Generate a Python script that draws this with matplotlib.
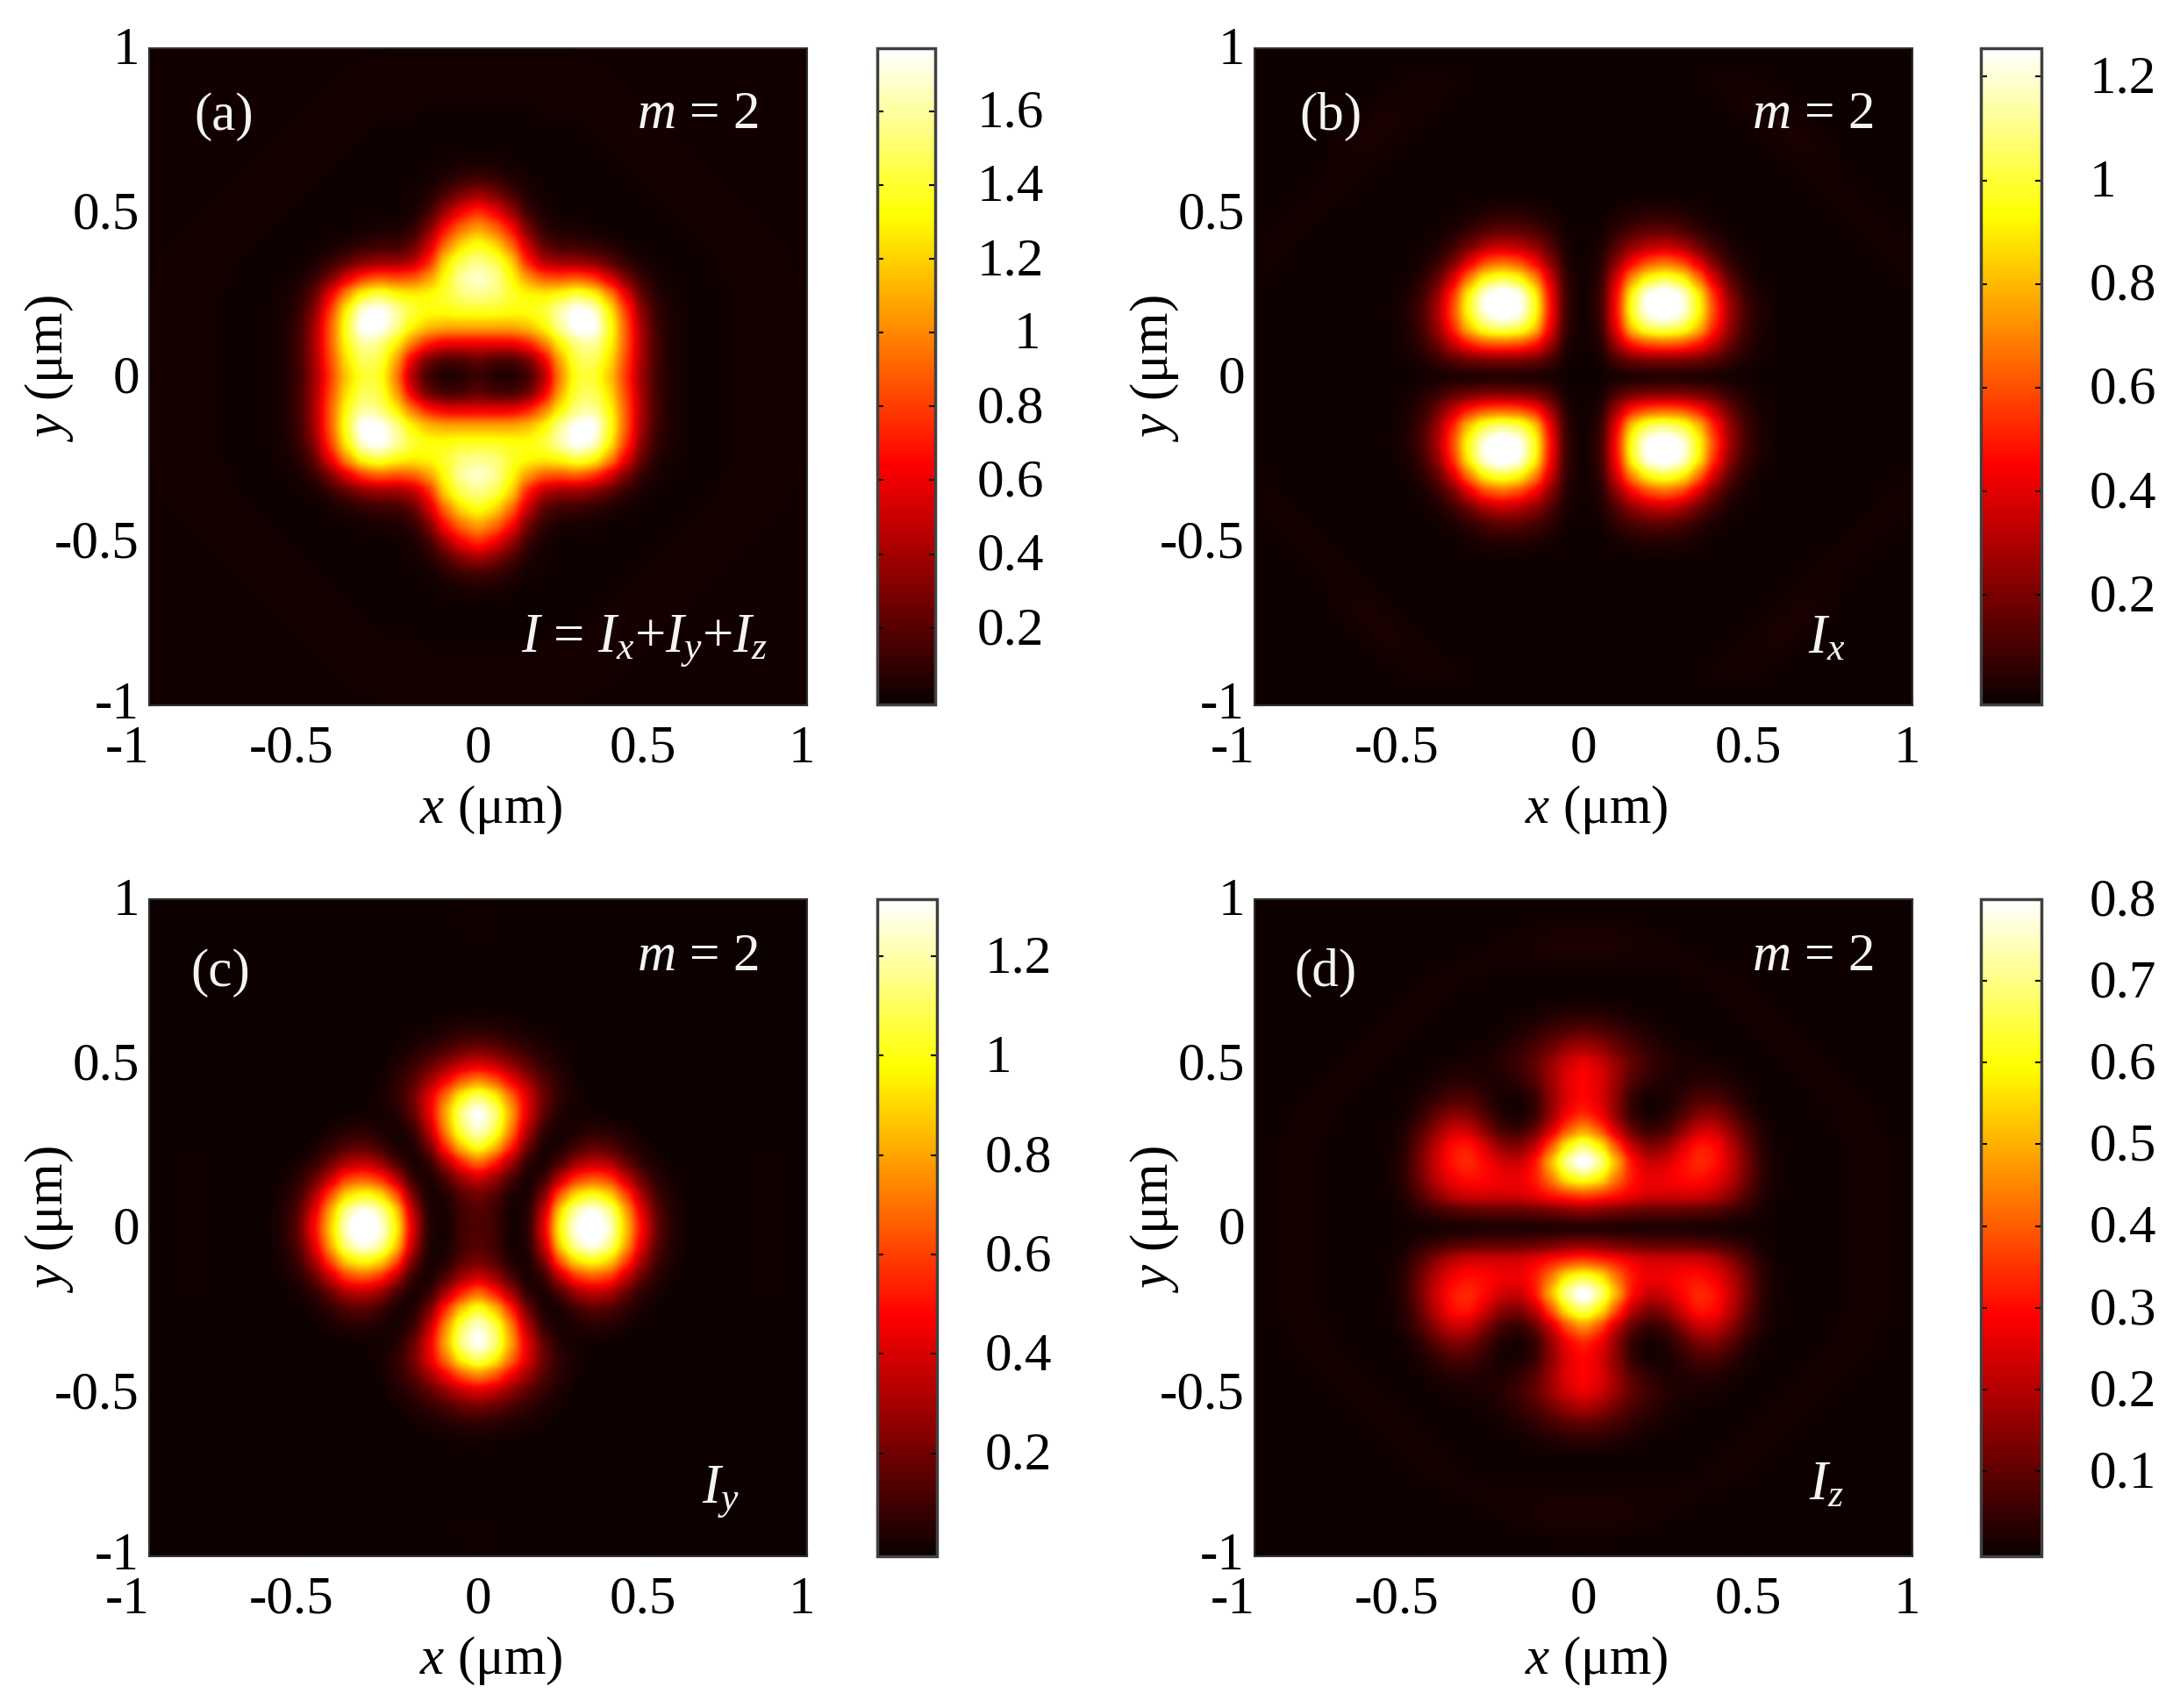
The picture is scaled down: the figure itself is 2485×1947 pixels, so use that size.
import numpy as np
import matplotlib
matplotlib.use('Agg')
import matplotlib.pyplot as plt
from matplotlib.transforms import ScaledTranslation

plt.rcParams['font.family'] = ['Liberation Serif', 'DejaVu Serif']
plt.rcParams['mathtext.fontset'] = 'custom'
plt.rcParams['mathtext.rm'] = 'Liberation Serif'
plt.rcParams['mathtext.it'] = 'Liberation Serif:italic'
plt.rcParams['mathtext.bf'] = 'Liberation Serif:bold'

# one quadrant of each map
# rows: y = 0, 0.05 ... 1   columns: x = 0, 0.05 ... 1
Ia = [
    [.12, .05, .03, .10, .38, 1.0, 1.40, 1.40, 1.18, .78, .34, .10, .03, .01, .01, .01, .02, .03, .03, .03, .02],
    [.22, .14, .13, .22, .55, 1.1, 1.45, 1.50, 1.25, .83, .37, .11, .03, .01, .01, .01, .02, .03, .03, .03, .02],
    [.58, .58, .58, .70, .95, 1.3, 1.55, 1.62, 1.35, .88, .38, .11, .03, .01, .01, .01, .02, .03, .03, .03, .02],
    [1.1, 1.1, 1.1, 1.15, 1.3, 1.6, 1.82, 1.85, 1.40, .88, .36, .10, .03, .01, .01, .01, .02, .03, .03, .03, .02],
    [1.38, 1.38, 1.35, 1.35, 1.42, 1.65, 1.85, 1.75, 1.32, .80, .30, .08, .03, .01, .01, .01, .02, .03, .03, .03, .02],
    [1.58, 1.55, 1.4, 1.33, 1.3, 1.35, 1.48, 1.38, 1.05, .60, .20, .05, .02, .01, .01, .01, .02, .03, .03, .03, .02],
    [1.72, 1.62, 1.35, 1.05, .88, .85, .90, .80, .55, .28, .09, .03, .01, .01, .01, .02, .03, .03, .03, .02, .02],
    [1.58, 1.48, 1.25, .70, .42, .35, .35, .30, .20, .09, .03, .01, .01, .01, .01, .02, .03, .03, .03, .02, .02],
    [1.38, 1.25, .95, .50, .20, .12, .12, .09, .05, .02, .01, .01, .01, .01, .02, .03, .03, .03, .02, .02, .02],
    [1.1, .95, .70, .27, .08, .04, .03, .02, .01, .01, .01, .01, .01, .02, .03, .03, .03, .02, .02, .02, .02],
    [.80, .65, .40, .12, .03, .01, .01, .01, .01, .01, .01, .01, .02, .03, .03, .03, .02, .02, .02, .02, .02],
    [.42, .32, .17, .05, .02, .01, .01, .01, .01, .01, .01, .02, .03, .03, .03, .02, .02, .02, .02, .02, .02],
    [.14, .11, .06, .02, .01, .01, .01, .01, .01, .01, .02, .03, .03, .03, .02, .02, .02, .02, .02, .02, .02],
    [.04, .03, .02, .01, .01, .01, .01, .01, .01, .02, .03, .03, .03, .02, .02, .02, .02, .02, .02, .02, .02],
    [.01, .01, .01, .01, .01, .01, .01, .01, .02, .03, .03, .03, .02, .02, .02, .02, .02, .02, .02, .02, .02],
    [.01, .01, .01, .01, .01, .01, .01, .02, .03, .03, .03, .02, .02, .02, .02, .02, .02, .02, .02, .02, .02],
    [.01, .01, .01, .01, .02, .02, .02, .03, .03, .03, .02, .02, .02, .02, .02, .02, .02, .02, .02, .02, .02],
    [.02, .02, .02, .02, .03, .03, .03, .03, .03, .02, .02, .02, .02, .02, .02, .02, .02, .02, .02, .02, .02],
    [.03, .03, .03, .03, .03, .03, .03, .03, .02, .02, .02, .02, .02, .02, .02, .02, .02, .02, .02, .02, .02],
    [.03, .03, .03, .03, .03, .03, .02, .02, .02, .02, .02, .02, .02, .02, .02, .02, .02, .02, .02, .02, .02],
    [.02, .02, .02, .02, .02, .02, .02, .02, .02, .02, .02, .02, .02, .02, .02, .02, .02, .02, .02, .02, .02],
]
Ib = [
    [0, 0, 0, 0, 0, 0, 0, 0, 0, 0, 0, 0, 0, 0, 0, 0, 0, 0, 0, 0, 0],
    [0, 0, .10, .16, .18, .19, .18, .16, .12, .06, .02, 0, 0, 0, 0, 0, 0, 0, 0, 0, 0],
    [0, .02, .28, .52, .60, .62, .60, .50, .33, .15, .05, .01, 0, 0, 0, 0, 0, 0, 0, 0, 0],
    [0, .04, .42, .90, 1.08, 1.12, 1.05, .84, .50, .23, .07, .01, 0, 0, 0, 0, 0, 0, 0, 0, 0],
    [0, .05, .47, 1.03, 1.3, 1.38, 1.25, .97, .57, .25, .08, .02, 0, 0, 0, 0, 0, 0, 0, 0, 0],
    [0, .05, .45, 1.0, 1.3, 1.38, 1.25, .94, .52, .21, .06, .01, 0, 0, 0, 0, 0, 0, 0, 0, 0],
    [0, .04, .37, .75, .97, 1.03, .95, .68, .35, .12, .03, 0, 0, 0, 0, 0, 0, 0, 0, .005, .005],
    [0, .02, .23, .45, .60, .65, .58, .38, .17, .05, .01, 0, 0, 0, 0, 0, 0, 0, 0, .01, .005],
    [0, .01, .12, .24, .30, .33, .28, .16, .07, .02, 0, 0, 0, 0, 0, 0, 0, 0, .01, .01, .005],
    [0, 0, .05, .10, .13, .13, .10, .05, .02, 0, 0, 0, 0, 0, 0, 0, 0, .01, .01, .005, 0],
    [0, 0, .01, .03, .04, .04, .03, .01, 0, 0, 0, 0, 0, 0, 0, 0, .01, .01, .005, 0, 0],
    [0, 0, 0, 0, 0, 0, 0, 0, 0, 0, 0, 0, 0, 0, 0, .01, .01, .005, 0, 0, 0],
    [0, 0, 0, 0, 0, 0, 0, 0, 0, 0, 0, 0, 0, 0, .01, .01, .005, 0, 0, 0, 0],
    [0, 0, 0, 0, 0, 0, 0, 0, 0, 0, 0, 0, 0, .01, .01, .01, 0, 0, 0, 0, 0],
    [0, 0, 0, 0, 0, 0, 0, 0, 0, 0, 0, 0, .01, .02, .02, .01, 0, 0, 0, 0, 0],
    [0, 0, 0, 0, 0, 0, 0, 0, 0, 0, 0, .01, .02, .02, .01, 0, 0, 0, 0, 0, 0],
    [0, 0, 0, 0, 0, 0, 0, 0, 0, 0, .01, .02, .02, .01, 0, 0, 0, 0, 0, 0, 0],
    [0, 0, 0, 0, 0, 0, 0, 0, 0, .01, .02, .01, .01, 0, 0, 0, 0, 0, 0, 0, 0],
    [0, 0, 0, 0, 0, 0, 0, .005, .01, .01, .01, .005, 0, 0, 0, 0, 0, 0, 0, 0, 0],
    [0, 0, 0, 0, 0, 0, 0, 0, 0, 0, 0, 0, 0, 0, 0, 0, 0, 0, 0, 0, 0],
    [0, 0, 0, 0, 0, 0, 0, 0, 0, 0, 0, 0, 0, 0, 0, 0, 0, 0, 0, 0, 0],
]
Ic = [
    [.14, .10, .01, .03, .42, 1.02, 1.32, 1.45, 1.28, .87, .47, .14, .03, 0, 0, 0, .005, .01, .01, .005, 0],
    [.14, .10, .01, .02, .35, .95, 1.25, 1.35, 1.2, .82, .40, .12, .03, 0, 0, 0, .005, .01, .01, .005, 0],
    [.20, .14, .03, .01, .20, .68, .95, 1.02, .92, .62, .28, .08, .02, 0, 0, 0, .005, .01, .01, .005, 0],
    [.38, .28, .11, .01, .06, .35, .58, .65, .60, .36, .15, .04, .01, 0, 0, 0, .005, .01, .01, .005, 0],
    [.72, .55, .30, .05, .01, .10, .27, .34, .30, .16, .05, .02, 0, 0, 0, 0, .005, .01, .01, .005, 0],
    [1.08, .90, .58, .18, .02, .01, .09, .14, .12, .06, .02, 0, 0, 0, 0, 0, 0, .005, .005, 0, 0],
    [1.3, 1.12, .75, .32, .06, .01, .03, .05, .04, .02, 0, 0, 0, 0, 0, 0, 0, 0, 0, 0, 0],
    [1.38, 1.18, .82, .42, .15, .03, .01, .01, 0, 0, 0, 0, 0, 0, 0, 0, 0, 0, 0, 0, 0],
    [1.15, 1.0, .70, .42, .18, .06, .02, 0, 0, 0, 0, 0, 0, 0, 0, 0, 0, 0, 0, 0, 0],
    [.74, .64, .45, .28, .13, .05, .01, 0, 0, 0, 0, 0, 0, 0, 0, 0, 0, 0, 0, 0, 0],
    [.40, .34, .24, .14, .07, .03, 0, 0, 0, 0, 0, 0, 0, 0, 0, 0, 0, 0, 0, 0, 0],
    [.18, .15, .10, .06, .03, .01, 0, 0, 0, 0, 0, 0, 0, 0, 0, 0, 0, 0, 0, 0, 0],
    [.05, .05, .03, .02, .01, 0, 0, 0, 0, 0, 0, 0, 0, 0, 0, 0, 0, 0, 0, 0, 0],
    [.01, .01, .01, 0, 0, 0, 0, 0, 0, 0, 0, 0, 0, 0, 0, 0, 0, 0, 0, 0, 0],
    [0, 0, 0, 0, 0, 0, 0, 0, 0, 0, 0, 0, 0, 0, 0, 0, 0, 0, 0, 0, 0],
    [0, 0, 0, 0, 0, 0, 0, 0, 0, 0, 0, 0, 0, 0, 0, 0, 0, 0, 0, 0, 0],
    [0, 0, 0, 0, 0, 0, 0, 0, 0, 0, 0, 0, 0, 0, 0, 0, 0, 0, 0, 0, 0],
    [.005, .005, 0, 0, 0, 0, 0, 0, 0, 0, 0, 0, 0, 0, 0, 0, 0, 0, 0, 0, 0],
    [.01, .01, .005, 0, 0, 0, 0, 0, 0, 0, 0, 0, 0, 0, 0, 0, 0, 0, 0, 0, 0],
    [.01, .01, .005, 0, 0, 0, 0, 0, 0, 0, 0, 0, 0, 0, 0, 0, 0, 0, 0, 0, 0],
    [.005, .005, 0, 0, 0, 0, 0, 0, 0, 0, 0, 0, 0, 0, 0, 0, 0, 0, 0, 0, 0],
]
Id = [
    [.003, .003, .003, .003, .003, .003, .003, .003, .003, .003, .003, .003, .003, .003, .003, .003, .007, .01, .01, .007, .003],
    [.14, .13, .11, .10, .09, .09, .09, .08, .07, .05, .03, .01, .003, .003, .003, .003, .007, .01, .01, .007, .003],
    [.38, .35, .32, .28, .25, .25, .25, .25, .22, .15, .08, .02, .003, .003, .003, .003, .007, .01, .01, .007, .003],
    [.65, .60, .43, .31, .27, .28, .30, .31, .28, .21, .11, .03, .005, .003, .003, .003, .007, .01, .01, .007, .003],
    [.88, .74, .52, .30, .22, .24, .30, .35, .32, .23, .12, .03, .005, .003, .003, .003, .007, .01, .01, .007, .003],
    [.70, .60, .38, .20, .13, .15, .25, .33, .31, .21, .10, .02, .003, .003, .003, .003, .007, .01, .01, .007, .003],
    [.48, .38, .22, .09, .04, .06, .14, .23, .23, .15, .07, .02, .003, .003, .003, .007, .01, .01, .007, .003, .003],
    [.33, .28, .15, .03, .005, .02, .07, .13, .14, .09, .03, .005, .003, .003, .003, .007, .01, .01, .007, .003, .003],
    [.30, .25, .15, .04, .01, .01, .04, .07, .07, .04, .015, .003, .003, .003, .007, .01, .01, .007, .003, .003, .003],
    [.30, .26, .17, .08, .04, .02, .02, .03, .03, .015, .005, .003, .003, .007, .01, .01, .007, .003, .003, .003, .003],
    [.28, .24, .17, .10, .06, .03, .02, .015, .01, .005, .003, .003, .007, .01, .01, .007, .003, .003, .003, .003, .003],
    [.19, .16, .11, .07, .04, .02, .01, .005, .003, .003, .003, .007, .01, .01, .007, .003, .003, .003, .003, .003, .003],
    [.09, .08, .06, .035, .02, .007, .003, .003, .003, .003, .007, .01, .01, .007, .003, .003, .003, .003, .003, .003, .003],
    [.03, .03, .02, .01, .005, .003, .003, .003, .003, .007, .01, .01, .007, .003, .003, .003, .003, .003, .003, .003, .003],
    [.003, .003, .003, .003, .003, .003, .003, .003, .007, .01, .01, .007, .003, .003, .003, .003, .003, .003, .003, .003, .003],
    [.003, .003, .003, .003, .003, .003, .005, .007, .01, .01, .007, .003, .003, .003, .003, .003, .003, .003, .003, .003, .003],
    [.007, .007, .007, .007, .007, .008, .01, .01, .007, .005, .003, .003, .003, .003, .003, .003, .003, .003, .003, .003, .003],
    [.02, .02, .02, .015, .015, .01, .007, .005, .003, .003, .003, .003, .003, .003, .003, .003, .003, .003, .003, .003, .003],
    [.015, .015, .015, .01, .007, .005, .003, .003, .003, .003, .003, .003, .003, .003, .003, .003, .003, .003, .003, .003, .003],
    [.005, .005, .005, .003, .003, .003, .003, .003, .003, .003, .003, .003, .003, .003, .003, .003, .003, .003, .003, .003, .003],
    [.003, .003, .003, .003, .003, .003, .003, .003, .003, .003, .003, .003, .003, .003, .003, .003, .003, .003, .003, .003, .003],
]

vmins = [-0.007, -0.012, -0.007, -0.004]
vmaxes = [1.77, 1.255, 1.315, 0.80]
axis_ticks = [-1, -0.5, 0, 0.5, 1]
axis_labels = ['-1', '-0.5', '0', '0.5', '1']
cb_ticks_a = [0.2, 0.4, 0.6, 0.8, 1.0, 1.2, 1.4, 1.6]
cb_labels_a = ['0.2', '0.4', '0.6', '0.8', '1', '1.2', '1.4', '1.6']
cb_ticks_b = [0.2, 0.4, 0.6, 0.8, 1.0, 1.2]
cb_labels_b = ['0.2', '0.4', '0.6', '0.8', '1', '1.2']
cb_ticks_d = [0.1, 0.2, 0.3, 0.4, 0.5, 0.6, 0.7, 0.8]
cb_labels_d = ['0.1', '0.2', '0.3', '0.4', '0.5', '0.6', '0.7', '0.8']

W, H = 2485, 1947
FS = 44
fig = plt.figure(figsize=(W / 100, H / 100), dpi=100)


def px_axes(l, t, r, b):
    return fig.add_axes([l / W, 1 - b / H, (r - l) / W, (b - t) / H])


def mirror(q):
    q = np.array(q)
    top = np.hstack((q[:, :0:-1], q))
    return np.vstack((top[:0:-1], top))


def shift(lab, dx, dy):
    lab.set_transform(lab.get_transform() + ScaledTranslation(dx / 100, dy / 100, fig.dpi_scale_trans))


def panel(data, vmin, vmax, rect, cbrect, cticks, clabels, tag, tagpos, mright, mpos, name, namepos, cpad):
    ax = px_axes(*rect)
    # gaussian keeps the soft edges of the original picture
    im = ax.imshow(mirror(data), cmap='hot', vmin=vmin, vmax=vmax, origin='lower',
                   extent=[-1.025, 1.025, -1.025, 1.025], aspect='auto',
                   interpolation='gaussian', interpolation_stage='data')
    ax.set_xlim(-1, 1)
    ax.set_ylim(-1, 1)
    ax.set_xticks(axis_ticks)
    ax.set_yticks(axis_ticks)
    ax.set_xticklabels(axis_labels, fontsize=FS)
    ax.set_yticklabels(axis_labels, fontsize=FS)
    ax.tick_params(axis='x', direction='in', length=6, color='k', pad=16)
    ax.tick_params(axis='y', direction='in', length=6, color='k', pad=8)
    for lab, v in zip(ax.get_xticklabels(), axis_ticks):
        # minus signs hang to the left of the tick in the original
        shift(lab, -25 if v < 0 else (-6 if v == 1 else 0), 0)
    for lab, v in zip(ax.get_yticklabels(), axis_ticks):
        shift(lab, 0, 6 if v == -1 else 3)
    for s in ax.spines.values():
        s.set_color('#303030')
        s.set_linewidth(1.5)
    ax.set_xlabel(r'$x$ (μm)', fontsize=FS, va='center')
    ax.set_ylabel(r'$y$ (μm)', fontsize=FS, va='center')
    ax.xaxis.set_label_coords(0.52, -0.159)
    ax.yaxis.set_label_coords(-0.152, 0.513)

    ax.text(tagpos[0], tagpos[1], tag, color='#f4f4f4', fontsize=FS, ha='center', va='center', transform=ax.transAxes)
    ax.text(mright, mpos, r'$m$ = 2', color='#f4f4f4', fontsize=FS, ha='right', va='center', transform=ax.transAxes)
    ax.text(namepos[0], namepos[1], name, color='#f4f4f4', fontsize=FS + 1, ha=namepos[2], va='center', transform=ax.transAxes)

    cax = px_axes(*cbrect)
    cb = fig.colorbar(im, cax=cax)
    cb.set_ticks(cticks)
    cb.set_ticklabels(clabels, fontsize=FS)
    cax.tick_params(axis='y', direction='in', length=5, width=1.5, color='k', left=True, right=True, pad=cpad)
    cb.outline.set_edgecolor('#404040')
    cb.outline.set_linewidth(2.5)
    for lab in cax.get_yticklabels():
        shift(lab, 0, 3)
    return cax


cax_a = panel(Ia, vmins[0], vmaxes[0], (170, 55, 920, 804), (1000, 55, 1066, 803), cb_ticks_a, cb_labels_a,
              '(a)', (0.114, 0.896), 0.926, 0.898, r'$I$ = $I_x$+$I_y$+$I_z$', (0.94, 0.098, 'right'), 34)
panel(Ib, vmins[1], vmaxes[1], (1430, 55, 2180, 804), (2258, 55, 2327, 803), cb_ticks_b, cb_labels_b,
      '(b)', (0.116, 0.896), 0.94, 0.898, r'$I_x$', (0.869, 0.10, 'center'), 39)
panel(Ic, vmins[2], vmaxes[2], (170, 1025, 920, 1774), (1000, 1025, 1068, 1774), cb_ticks_b, cb_labels_b,
      '(c)', (0.108, 0.888), 0.926, 0.911, r'$I_y$', (0.869, 0.098, 'center'), 39)
panel(Id, vmins[3], vmaxes[3], (1430, 1025, 2180, 1774), (2258, 1025, 2327, 1774), cb_ticks_d, cb_labels_d,
      '(d)', (0.108, 0.888), 0.94, 0.911, r'$I_z$', (0.869, 0.106, 'center'), 39)

# the "1" of panel (a) sits further right than in the others
for lab, v in zip(cax_a.get_yticklabels(), cb_ticks_a):
    if v == 1.0:
        shift(lab, 42, 0)

fig.savefig('out.png', dpi=100)
